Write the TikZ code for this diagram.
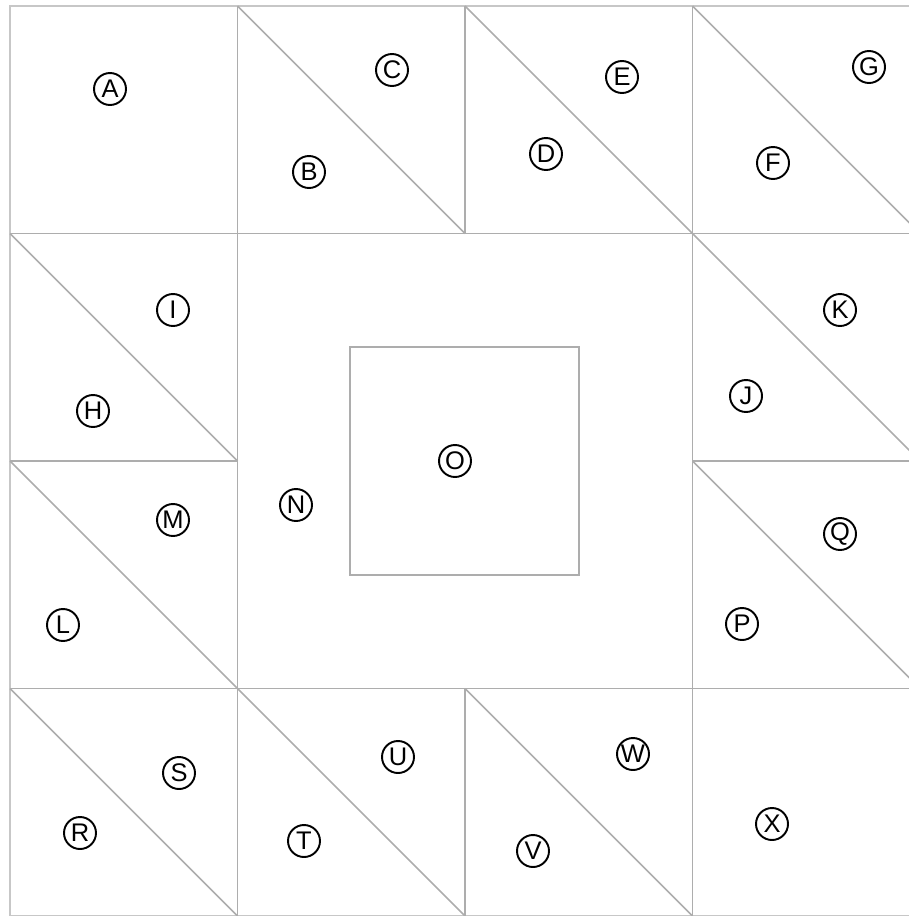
\documentclass[tikz,border=0pt]{standalone}
\usepackage{fontspec}
\setmainfont{Liberation Sans}
\tikzset{
  patch/.style={draw=black!22, line width=1.1pt},
  seam/.style={draw=black!32, line width=0.9pt},
  lbl/.style={circle, draw=black, line width=1.1pt, inner sep=0pt,
    minimum size=0.64cm, font=\fontsize{14.5}{14.5}\selectfont}
}
\begin{document}
\begin{tikzpicture}[x=0.02cm, y=-0.02cm]
        \useasboundingbox (0,0) rectangle (909,916);
        \clip (0,0) rectangle (909,916);

        %bordo
        \draw[patch] (10,916) -- (10,6) -- (920,6) -- (920,916) -- cycle;
        %righe orizzontali
        \draw[seam] (10,233.5) -- (920,233.5);
        \draw[seam] (10,461) -- (237.5,461);
        \draw[seam] (692.5,461) -- (920,461);
        \draw[seam] (10,688.5) -- (920,688.5);
        %righe verticali
        \draw[seam] (237.5,6) -- (237.5,916);
        \draw[seam] (465,6) -- (465,233.5);
        \draw[seam] (465,688.5) -- (465,916);
        \draw[seam] (692.5,6) -- (692.5,916);

        %diagonali
        \foreach \c/\r in {1/0, 2/0, 3/0, 0/1, 3/1, 0/2, 3/2, 0/3, 1/3, 2/3}
          \draw[seam] (10+227.5*\c,6+227.5*\r) -- ++(227.5,227.5);

        %quadrato centrale
        \draw[seam] (350,347) rectangle (579,575);

        %etichette
        \node[lbl] (A) at (110,89) {A};
        \node[lbl] (B) at (309,172) {B};
        \node[lbl] (C) at (392,70) {C};
        \node[lbl] (D) at (546,154) {D};
        \node[lbl] (E) at (622,77) {E};
        \node[lbl] (F) at (773,163) {F};
        \node[lbl] (G) at (869,67) {G};
        \node[lbl] (H) at (93,411) {H};
        \node[lbl] (I) at (173,310) {I};
        \node[lbl] (J) at (746,396) {J};
        \node[lbl] (K) at (840,310) {K};
        \node[lbl] (L) at (63,625) {L};
        \node[lbl] (M) at (173,520) {M};
        \node[lbl] (N) at (296,505) {N};
        \node[lbl] (O) at (455,461) {O};
        \node[lbl] (P) at (742,624) {P};
        \node[lbl] (Q) at (840,534) {Q};
        \node[lbl] (R) at (80,833) {R};
        \node[lbl] (S) at (179,773) {S};
        \node[lbl] (T) at (304,841) {T};
        \node[lbl] (U) at (398,757) {U};
        \node[lbl] (V) at (533,851) {V};
        \node[lbl] (W) at (633,754) {W};
        \node[lbl] (X) at (772,824) {X};
\end{tikzpicture}
\end{document}
